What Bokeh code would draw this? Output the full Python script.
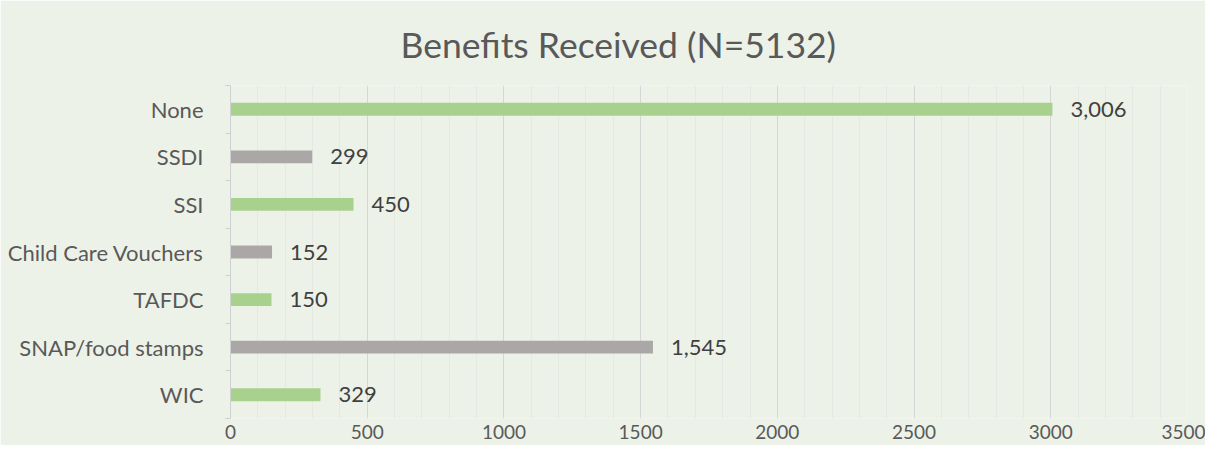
from bokeh.plotting import figure
from bokeh.models import ColumnDataSource, Range1d, SingleIntervalTicker, FixedTicker
from bokeh.embed import file_html
from bokeh.resources import INLINE
from bokeh.core.properties import value

# ---- data (top to bottom as in the chart) ----
categories = ["None", "SSDI", "SSI", "Child Care Vouchers", "TAFDC", "SNAP/food stamps", "WIC"]
counts = [3006, 299, 450, 152, 150, 1545, 329]
title_text = "Benefits Received (N=5132)"
x_ticks = [0, 500, 1000, 1500, 2000, 2500, 3000, 3500]

GREEN = "#A9D18E"
GRAY = "#ABA7A7"
colors = [GREEN if i % 2 == 0 else GRAY for i in range(len(categories))]
labels = [f"{v:,}" for v in counts]

# category slots, counted from the bottom (first category on top)
n = len(categories)
slot = [n - 1 - i + 0.5 for i in range(n)]

src = ColumnDataSource(dict(cat=categories, pos=slot, val=counts, color=colors, lab=labels))

BG = "#EDF2E8"
FONT = "Lato"
AXIS_GRAY = "#D0D0D0"

W, H = 1205, 445
B_LEFT, B_RIGHT, B_TOP, B_BOTTOM = 230, 18, 85, 27

p = figure(
    width=W, height=H,
    y_range=Range1d(0, n),
    x_range=Range1d(x_ticks[0], x_ticks[-1]),
    output_backend="svg", toolbar_location=None,
    min_border_left=B_LEFT, min_border_right=B_RIGHT,
    min_border_top=B_TOP, min_border_bottom=B_BOTTOM,
    background_fill_color=BG, border_fill_color=BG,
)
p.outline_line_color = None

p.title.text = title_text
p.title.align = "left"
p.title.offset = 170
p.title.text_font = FONT
p.title.text_font_style = "normal"
p.title.text_font_size = "35.5px"
p.title.text_color = "#595959"
p.title.standoff = 40

p.hbar(y="pos", right="val", left=0, height=0.27, color="color", line_color=None, source=src)
p.text(x="val", y="pos", text="lab", source=src, x_offset=18,
       text_baseline="middle", text_align="left",
       text_font=value(FONT), text_font_size="22px", text_color="#404040")

# x axis
p.xaxis.ticker = SingleIntervalTicker(interval=500, num_minor_ticks=5)
p.xaxis.axis_line_color = None
p.xaxis.major_tick_line_color = None
p.xaxis.minor_tick_line_color = None
p.xaxis.major_tick_out = 0
p.xaxis.minor_tick_out = 0
p.xaxis.major_label_text_font = FONT
p.xaxis.major_label_text_font_size = "19px"
p.xaxis.major_label_text_color = "#595959"
p.xaxis.major_label_standoff = 6

# y axis: category names at slot centres, short ticks at slot boundaries (Excel style)
p.yaxis.ticker = FixedTicker(ticks=slot, minor_ticks=list(range(n + 1)))
p.yaxis.major_label_overrides = {s: c for s, c in zip(slot, categories)}
p.yaxis.axis_line_color = AXIS_GRAY
p.yaxis.major_tick_line_color = None
p.yaxis.major_tick_out = 0
p.yaxis.major_tick_in = 0
p.yaxis.minor_tick_line_color = AXIS_GRAY
p.yaxis.minor_tick_out = 5
p.yaxis.minor_tick_in = 0
p.yaxis.major_label_text_font = FONT
p.yaxis.major_label_text_font_size = "22px"
p.yaxis.major_label_text_color = "#595959"
p.yaxis.major_label_standoff = 22

# grids
p.xgrid.grid_line_color = "#D6D6D6"
p.xgrid.minor_grid_line_color = "#E5E9E1"
p.ygrid.grid_line_color = None
p.ygrid.minor_grid_line_color = None

open("out.html", "w").write(file_html(p, INLINE))
